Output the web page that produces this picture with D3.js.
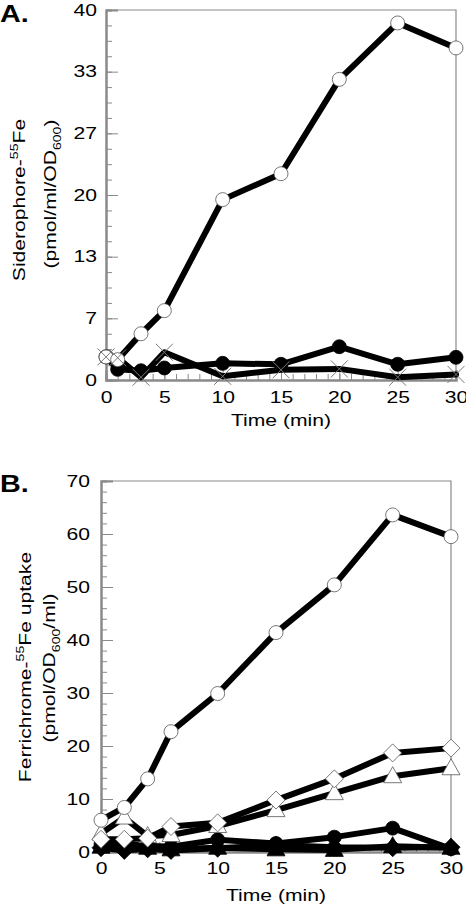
<!DOCTYPE html>
<html><head><meta charset="utf-8">
<script src="https://cdn.jsdelivr.net/npm/d3@7"></script>
<style>body{margin:0;background:#fff}svg{display:block}</style>
</head><body>
<svg id="c" width="466" height="907"></svg>
<script>
// ---- Panel A data ----
const timeA = [0, 1, 3, 5, 10, 15, 20, 25, 30];
const aOpenCircle = [2.5, 2.2, 5.0, 7.5, 19.5, 22.3, 32.5, 38.6, 35.9];
const aFilledCircle = [2.5, 1.15, 1.0, 1.3, 1.8, 1.7, 3.6, 1.7, 2.45];
const aCross = [2.5, 2.4, 0.3, 3.0, 0.4, 1.1, 1.2, 0.3, 0.6];
const yTicksA = [0, 40/6, 80/6, 20, 160/6, 200/6, 40];
const xTicks = [0, 5, 10, 15, 20, 25, 30];

// ---- Panel B data ----
const timeB = [0, 2, 4, 6, 10, 15, 20, 25, 30];
const bOpenCircle = [6.0, 8.4, 13.8, 22.7, 29.9, 41.4, 50.4, 63.6, 59.5];
const bOpenDiamond = [2.4, 2.4, 2.6, 4.8, 5.5, 9.8, 13.8, 18.7, 19.6];
const bOpenTriangle = [3.5, 6.5, 3.0, 3.2, 4.9, 7.9, 11.1, 14.3, 15.8];
const bFilledCircle = [1.5, 1.5, 1.2, 1.0, 2.3, 1.6, 2.8, 4.5, 0.6];
const bFilledDiamond = [0.8, 0.3, 0.6, 0.3, 0.7, 1.3, 0.9, 0.8, 0.9];
const bFilledTriangle = [1.0, 1.5, 0.8, 0.5, 0.8, 0.5, 0.4, 1.1, 0.8];
const yTicksB = [0, 10, 20, 30, 40, 50, 60, 70];

const SX = 1.28;
const FS = 16.5;
const FONT = "'Liberation Sans', Arial, Helvetica, sans-serif";
const svg = d3.select("#c");

function label(x, y, rot, parts, opts = {}) {
  const g = svg.append("g").attr("transform", `translate(${x},${y}) rotate(${rot}) scale(${opts.sx || SX},1)`);
  const t = g.append("text").attr("text-anchor", opts.anchor || "middle")
    .attr("font-family", FONT).attr("font-size", opts.size || FS)
    .attr("font-weight", opts.weight || "normal").attr("fill", "#000");
  let shift = 0;
  parts.forEach(p => {
    const target = p.sup ? -7 : p.sub ? 5 : 0;
    t.append("tspan").attr("dy", target - shift).attr("font-size", p.sup || p.sub ? 11 : (opts.size || FS)).text(p.t);
    shift = target;
  });
}

function symPath(type, x, y) {
  const p = d3.path();
  if (type === "diamond") { const h = 9; p.moveTo(x, y - h); p.lineTo(x + h, y); p.lineTo(x, y + h); p.lineTo(x - h, y); p.closePath(); }
  else if (type === "triangle") { p.moveTo(x, y - 9.5); p.lineTo(x + 9, y + 6.5); p.lineTo(x - 9, y + 6.5); p.closePath(); }
  else if (type === "cross") { const h = 8.5; p.moveTo(x - h, y - h); p.lineTo(x + h, y + h); p.moveTo(x + h, y - h); p.lineTo(x - h, y + h); }
  return p.toString();
}

function panel(cfg) {
  const x = d3.scaleLinear().domain([0, 30]).range([cfg.left, cfg.right]);
  const y = d3.scaleLinear().domain([0, cfg.ymax]).range([cfg.bottom, cfg.top]);
  const axisColor = "#8a8a8a";
  svg.append("path").attr("d", `M${cfg.left},${cfg.top}H${cfg.right}V${cfg.bottom}`)
    .attr("fill", "none").attr("stroke", axisColor).attr("stroke-width", 1.2);
  const gyMinor = svg.append("g").attr("transform", `translate(${cfg.left},0)`)
    .call(d3.axisLeft(y).tickValues(cfg.yMinor).tickSize(-6).tickFormat(""));
  const gy = svg.append("g").attr("transform", `translate(${cfg.left},0)`)
    .call(d3.axisLeft(y).tickValues(cfg.yTicks).tickSize(-12).tickPadding(0).tickFormat(d3.format(".0f")));
  const gxMinor = svg.append("g").attr("transform", `translate(0,${cfg.bottom})`)
    .call(d3.axisBottom(x).tickValues(d3.range(0, 31, 1)).tickSize(-6).tickFormat(""));
  const gx = svg.append("g").attr("transform", `translate(0,${cfg.bottom})`)
    .call(d3.axisBottom(x).tickValues(xTicks).tickSize(-10).tickPadding(cfg.xPad));
  [gyMinor, gy, gxMinor, gx].forEach(g => {
    g.selectAll(".domain").attr("stroke", axisColor).attr("stroke-width", 2);
    g.selectAll(".tick line").attr("stroke", axisColor).attr("stroke-width", 1);
  });
  gy.selectAll("text").attr("x", -cfg.yGap / SX).attr("transform", `scale(${SX},1)`)
    .attr("font-family", FONT).attr("font-size", FS).attr("fill", "#000");
  gx.selectAll("text").attr("transform", `scale(${SX},1)`)
    .attr("font-family", FONT).attr("font-size", FS).attr("fill", "#000");

  const line = d3.line().x(d => x(d[0])).y(d => y(d[1]));
  const drawMarkers = (s, pts) => {
    const g = svg.append("g");
    pts.forEach(p => {
      const cx = x(p[0]), cy = y(p[1]);
      if (s.shape === "circle") {
        g.append("circle").attr("cx", cx).attr("cy", cy).attr("r", 7)
          .attr("fill", s.filled ? "#000" : "#fff").attr("stroke", s.filled ? "#000" : "#555").attr("stroke-width", 0.8);
      } else if (s.shape === "cross") {
        g.append("path").attr("d", symPath("cross", cx, cy)).attr("stroke", "#777").attr("stroke-width", 1).attr("fill", "none");
      } else {
        g.append("path").attr("d", symPath(s.shape, cx, cy))
          .attr("fill", s.filled ? "#000" : "#fff").attr("stroke", s.filled ? "#000" : "#555").attr("stroke-width", 0.8);
      }
    });
  };
  const later = [];
  cfg.series.forEach(s => {
    const pts = cfg.time.map((t, i) => [t, s.values[i]]);
    svg.append("path").attr("d", line(pts)).attr("fill", "none").attr("stroke", "#000")
      .attr("stroke-width", 6).attr("stroke-linejoin", "round").attr("stroke-linecap", "round");
    if (s.shape === "cross") later.push([s, pts]); else drawMarkers(s, pts);
  });
  later.forEach(([s, pts]) => drawMarkers(s, pts));
}

panel({
  left: 106, right: 456, top: 10, bottom: 380, ymax: 40, xPad: 11, yGap: 9,
  yTicks: yTicksA, yMinor: d3.range(0, 25).map(i => i * 40 / 24),
  time: timeA,
  series: [
    { values: aFilledCircle, shape: "circle", filled: true },
    { values: aCross, shape: "cross" },
    { values: aOpenCircle, shape: "circle", filled: false }
  ]
});

panel({
  left: 101, right: 451, top: 481, bottom: 852, ymax: 70, xPad: 10, yGap: 11,
  yTicks: yTicksB, yMinor: d3.range(0, 71, 2),
  time: timeB,
  series: [
    { values: bFilledTriangle, shape: "triangle", filled: true },
    { values: bFilledCircle, shape: "circle", filled: true },
    { values: bFilledDiamond, shape: "diamond", filled: true },
    { values: bOpenTriangle, shape: "triangle", filled: false },
    { values: bOpenDiamond, shape: "diamond", filled: false },
    { values: bOpenCircle, shape: "circle", filled: false }
  ]
});

label(0, 22, 0, [{ t: "A." }], { anchor: "start", size: 23, weight: "bold", sx: 1.25 });
label(0, 492, 0, [{ t: "B." }], { anchor: "start", size: 23, weight: "bold", sx: 1.25 });

label(25, 200, -90, [{ t: "Siderophore-" }, { t: "55", sup: true }, { t: "Fe" }]);
label(56, 194, -90, [{ t: "(pmol/ml/OD" }, { t: "600", sub: true }, { t: ")" }]);
label(281, 426, 0, [{ t: "Time (min)" }]);

label(31, 667, -90, [{ t: "Ferrichrome-" }, { t: "55", sup: true }, { t: "Fe uptake" }]);
label(55, 668, -90, [{ t: "(pmol/OD" }, { t: "600", sub: true }, { t: "/ml)" }]);
label(276, 901, 0, [{ t: "Time (min)" }]);
</script>
</body></html>
